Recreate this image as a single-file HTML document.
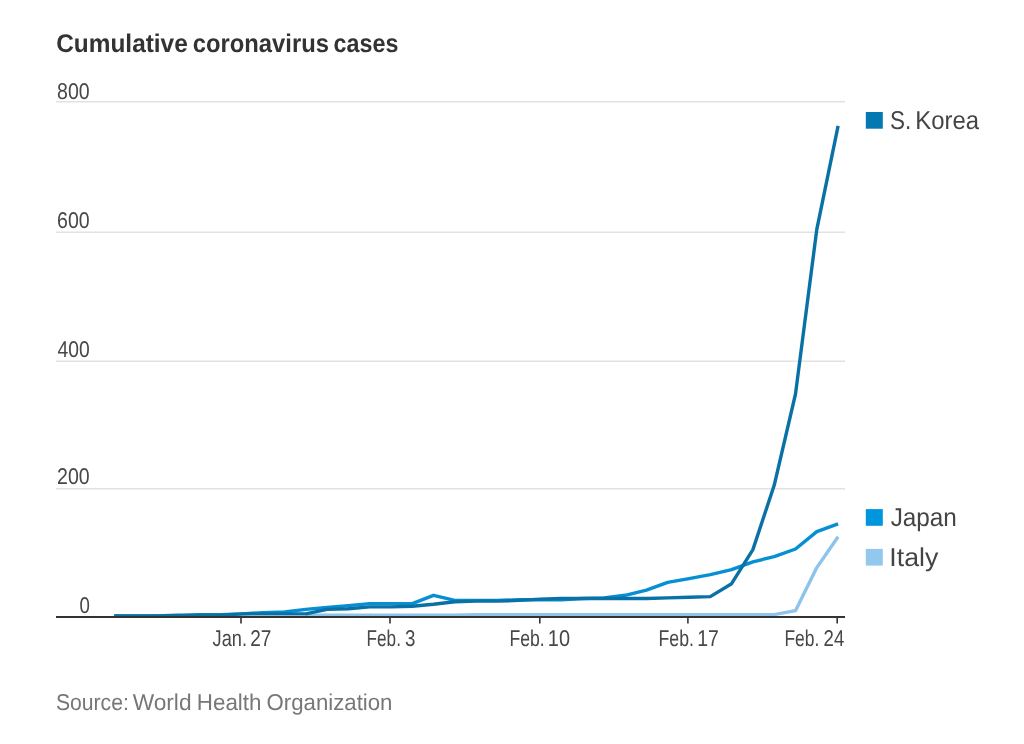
<!DOCTYPE html>
<html><head><meta charset="utf-8"><title>Cumulative coronavirus cases</title>
<style>html,body{margin:0;padding:0;background:#fff;width:1024px;height:744px;overflow:hidden}svg{display:block;will-change:transform}</style>
</head><body>
<svg width="1024" height="744" viewBox="0 0 1024 744">
<rect width="1024" height="744" fill="#ffffff"/>
<text y="52" font-family="Liberation Sans, sans-serif" text-rendering="geometricPrecision" font-weight="700" font-size="25.5" fill="#333333"><tspan x="56.24" textLength="131.53" lengthAdjust="spacingAndGlyphs">Cumulative</tspan> <tspan x="192.77" textLength="136.14" lengthAdjust="spacingAndGlyphs">coronavirus</tspan> <tspan x="333.59" textLength="64.86" lengthAdjust="spacingAndGlyphs">cases</tspan></text>
<line x1="56" y1="101.7" x2="845" y2="101.7" stroke="#e2e2e2" stroke-width="1.4"/>
<line x1="56" y1="232.3" x2="845" y2="232.3" stroke="#e2e2e2" stroke-width="1.4"/>
<line x1="56" y1="361.3" x2="845" y2="361.3" stroke="#e2e2e2" stroke-width="1.4"/>
<line x1="56" y1="488.7" x2="845" y2="488.7" stroke="#e2e2e2" stroke-width="1.4"/>
<text y="98.8" font-family="Liberation Sans, sans-serif" text-rendering="geometricPrecision" font-size="22.8" fill="#484848"><tspan x="57.04" textLength="32.64" lengthAdjust="spacingAndGlyphs">800</tspan></text>
<text y="227.8" font-family="Liberation Sans, sans-serif" text-rendering="geometricPrecision" font-size="22.8" fill="#484848"><tspan x="57.04" textLength="32.64" lengthAdjust="spacingAndGlyphs">600</tspan></text>
<text y="356.6" font-family="Liberation Sans, sans-serif" text-rendering="geometricPrecision" font-size="22.8" fill="#484848"><tspan x="57.48" textLength="32.2" lengthAdjust="spacingAndGlyphs">400</tspan></text>
<text y="483.9" font-family="Liberation Sans, sans-serif" text-rendering="geometricPrecision" font-size="22.8" fill="#484848"><tspan x="57.04" textLength="32.64" lengthAdjust="spacingAndGlyphs">200</tspan></text>
<text y="612.6" font-family="Liberation Sans, sans-serif" text-rendering="geometricPrecision" font-size="22.8" fill="#484848"><tspan x="79.39" textLength="10.38" lengthAdjust="spacingAndGlyphs">0</tspan></text>
<polyline points="305.8,615.2 327.1,615.2 348.4,615.2 369.7,615.2 391.0,615.2 412.3,615.2 433.5,615.2 454.8,615.2 476.1,614.6 497.4,614.6 518.7,614.6 540.0,614.6 561.3,614.6 582.6,614.6 603.9,614.6 625.2,614.6 646.5,614.6 667.7,614.6 689.0,614.6 710.3,614.6 731.6,614.6 752.9,614.6 774.2,614.6 795.5,610.7 816.8,567.6 838.1,536.8" fill="none" stroke="#8dc4eb" stroke-width="3.4" stroke-linejoin="round"/>
<polyline points="114.2,615.9 135.5,615.9 156.8,615.9 178.1,615.9 199.4,614.6 220.6,614.6 241.9,613.9 263.2,612.6 284.5,612.0 305.8,609.4 327.1,607.5 348.4,605.6 369.7,603.6 391.0,603.6 412.3,603.6 433.5,595.3 454.8,600.4 476.1,600.4 497.4,600.4 518.7,599.8 540.0,599.8 561.3,599.8 582.6,598.5 603.9,597.9 625.2,595.3 646.5,590.1 667.7,582.4 689.0,578.6 710.3,574.7 731.6,569.6 752.9,561.8 774.2,556.7 795.5,549.0 816.8,531.6 838.1,523.9" fill="none" stroke="#068fd2" stroke-width="3.4" stroke-linejoin="round"/>
<polyline points="114.2,615.9 135.5,615.9 156.8,615.9 178.1,615.2 199.4,615.2 220.6,615.2 241.9,613.9 263.2,613.9 284.5,613.9 305.8,613.9 327.1,609.4 348.4,608.8 369.7,606.9 391.0,606.9 412.3,606.2 433.5,604.3 454.8,601.7 476.1,601.1 497.4,601.1 518.7,600.4 540.0,599.1 561.3,598.5 582.6,598.5 603.9,598.5 625.2,598.5 646.5,598.5 667.7,597.9 689.0,597.2 710.3,596.6 731.6,583.7 752.9,549.6 774.2,485.3 795.5,394.0 816.8,229.4 838.1,125.9" fill="none" stroke="#0a71a6" stroke-width="3.4" stroke-linejoin="round"/>
<line x1="56" y1="617" x2="845" y2="617" stroke="#333333" stroke-width="2"/>
<line x1="241" y1="617" x2="241" y2="623.5" stroke="#333333" stroke-width="1.6"/>
<line x1="390" y1="617" x2="390" y2="623.5" stroke="#333333" stroke-width="1.6"/>
<line x1="539.8" y1="617" x2="539.8" y2="623.5" stroke="#333333" stroke-width="1.6"/>
<line x1="687.9" y1="617" x2="687.9" y2="623.5" stroke="#333333" stroke-width="1.6"/>
<line x1="837.2" y1="617" x2="837.2" y2="623.5" stroke="#333333" stroke-width="1.6"/>
<text y="645.8" font-family="Liberation Sans, sans-serif" text-rendering="geometricPrecision" font-size="22.8" fill="#484848"><tspan x="212.6" textLength="34.37" lengthAdjust="spacingAndGlyphs">Jan.</tspan> <tspan x="250.27" textLength="21.16" lengthAdjust="spacingAndGlyphs">27</tspan></text>
<text y="645.8" font-family="Liberation Sans, sans-serif" text-rendering="geometricPrecision" font-size="22.8" fill="#484848"><tspan x="366.58" textLength="34.33" lengthAdjust="spacingAndGlyphs">Feb.</tspan> <tspan x="404.99" textLength="10.38" lengthAdjust="spacingAndGlyphs">3</tspan></text>
<text y="645.8" font-family="Liberation Sans, sans-serif" text-rendering="geometricPrecision" font-size="22.8" fill="#484848"><tspan x="509.45" textLength="35.31" lengthAdjust="spacingAndGlyphs">Feb.</tspan> <tspan x="547.87" textLength="22.18" lengthAdjust="spacingAndGlyphs">10</tspan></text>
<text y="645.8" font-family="Liberation Sans, sans-serif" text-rendering="geometricPrecision" font-size="22.8" fill="#484848"><tspan x="658.54" textLength="35.41" lengthAdjust="spacingAndGlyphs">Feb.</tspan> <tspan x="697.21" textLength="21.64" lengthAdjust="spacingAndGlyphs">17</tspan></text>
<text y="645.8" font-family="Liberation Sans, sans-serif" text-rendering="geometricPrecision" font-size="22.8" fill="#484848"><tspan x="784.46" textLength="34.87" lengthAdjust="spacingAndGlyphs">Feb.</tspan> <tspan x="823.58" textLength="20.71" lengthAdjust="spacingAndGlyphs">24</tspan></text>
<rect x="865.8" y="112" width="17" height="16.7" fill="#0478b0"/>
<text y="128.6" font-family="Liberation Sans, sans-serif" text-rendering="geometricPrecision" font-size="25.8" fill="#444444"><tspan x="889.91" textLength="21.26" lengthAdjust="spacingAndGlyphs">S.</tspan> <tspan x="915.35" textLength="63.71" lengthAdjust="spacingAndGlyphs">Korea</tspan></text>
<rect x="865.8" y="509.1" width="17" height="16.7" fill="#0096dc"/>
<text y="526.1" font-family="Liberation Sans, sans-serif" text-rendering="geometricPrecision" font-size="25.8" fill="#444444"><tspan x="890.63" textLength="66.23" lengthAdjust="spacingAndGlyphs">Japan</tspan></text>
<rect x="865.8" y="548.9" width="17" height="16.7" fill="#92c8ee"/>
<text y="565.7" font-family="Liberation Sans, sans-serif" text-rendering="geometricPrecision" font-size="25.8" fill="#444444"><tspan x="889.37" textLength="48.99" lengthAdjust="spacingAndGlyphs">Italy</tspan></text>
<text y="709.6" font-family="Liberation Sans, sans-serif" text-rendering="geometricPrecision" font-size="22.9" fill="#777777"><tspan x="55.88" textLength="72.97" lengthAdjust="spacingAndGlyphs">Source:</tspan> <tspan x="132.7" textLength="58.86" lengthAdjust="spacingAndGlyphs">World</tspan> <tspan x="196.79" textLength="64.7" lengthAdjust="spacingAndGlyphs">Health</tspan> <tspan x="266.53" textLength="125.93" lengthAdjust="spacingAndGlyphs">Organization</tspan></text>
</svg>
</body></html>
